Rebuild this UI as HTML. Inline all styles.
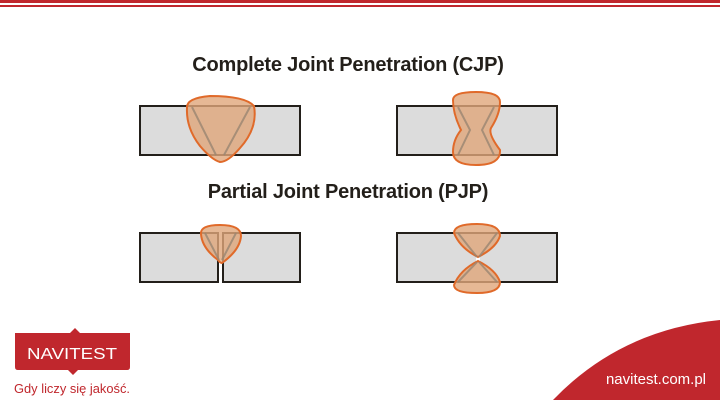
<!DOCTYPE html>
<html><head><style>
body{margin:0;width:720px;height:400px;background:#fff;overflow:hidden;position:relative;font-family:"Liberation Sans",sans-serif}
.t{position:absolute;left:0;width:696px;text-align:center;font-weight:bold;font-size:20px;color:#231f1a;letter-spacing:-0.2px}
</style></head><body>
<div style="position:absolute;left:0;top:0;width:720px;height:3px;background:#c0272d"></div>
<div style="position:absolute;left:0;top:5px;width:720px;height:2px;background:#c0272d"></div>
<div class="t" style="top:54px">Complete Joint Penetration (CJP)</div>
<div class="t" style="top:181px">Partial Joint Penetration (PJP)</div>
<svg width="720" height="400" style="position:absolute;left:0;top:0">
<g stroke="#231f1a" stroke-width="2" fill="#dcdcdc">
<rect x="140" y="106" width="160" height="49"/>
<rect x="397" y="106" width="160" height="49"/>
<rect x="140" y="233" width="78" height="49"/>
<rect x="223" y="233" width="77" height="49"/>
<rect x="397" y="233" width="160" height="49"/>
</g>
<rect x="476" y="257" width="4" height="4" fill="#fff"/>
<g fill="#e0a67a" fill-opacity="0.8" stroke="#e06a2a" stroke-width="2">
<path d="M187,108 Q186,98 210,96 Q245,96 254,106 Q258,128 240,148 Q228,162 220,162 Q212,160 200,146 Q186,128 187,108Z"/>
<path d="M453,100 Q453,92 476,92 Q500,92 500,102 Q500,114 491,128 Q488,134 500,150 Q501,165 476,165 Q453,165 453,152 Q453,140 461,130 Q453,114 453,100Z"/>
<path d="M201,234 Q200,225 220,225 Q241,225 241,236 Q240,250 222,263 Q220,263 218,260 Q202,248 201,234Z"/>
<path d="M454,233 Q454,224 477,224 Q500,224 500,236 Q496,248 478,257 Q460,248 454,233Z"/>
<path d="M478,261 Q496,270 500,282 Q500,293 477,293 Q454,293 454,285 Q460,270 478,261Z"/>
</g>
<g stroke="#9a8672" stroke-width="2" fill="none" opacity="0.8">
<path d="M192,107 L216,155 M250,107 L224,155"/>
<path d="M458,107 L470,130 L458,155 M494,107 L482,130 L494,155"/>
<path d="M205,233 L219,260 M236,233 L222,260"/>
<path d="M458,233 L477,257 M497,233 L479,257 M458,282 L477,262 M497,282 L479,262"/>
</g>
<path d="M553,400 Q620,330 720,320 L720,400Z" fill="#c0272d"/>
<path d="M15,333 L70,333 L75,328 L80,333 L130,333 L130,367 Q130,370 127,370 L78,370 L73,375 L68,370 L18,370 Q15,370 15,367Z" fill="#c0272d"/>
<text x="72" y="359" text-anchor="middle" fill="#fff" font-family="Liberation Sans" font-size="16" textLength="90" lengthAdjust="spacingAndGlyphs">NAVITEST</text>
<text x="14" y="393" fill="#c0272d" font-family="Liberation Sans" font-size="13" textLength="116" lengthAdjust="spacingAndGlyphs">Gdy liczy się jakość.</text>
<text x="706" y="384" text-anchor="end" fill="#fff" font-family="Liberation Sans" font-size="15">navitest.com.pl</text>
</svg>
</body></html>
